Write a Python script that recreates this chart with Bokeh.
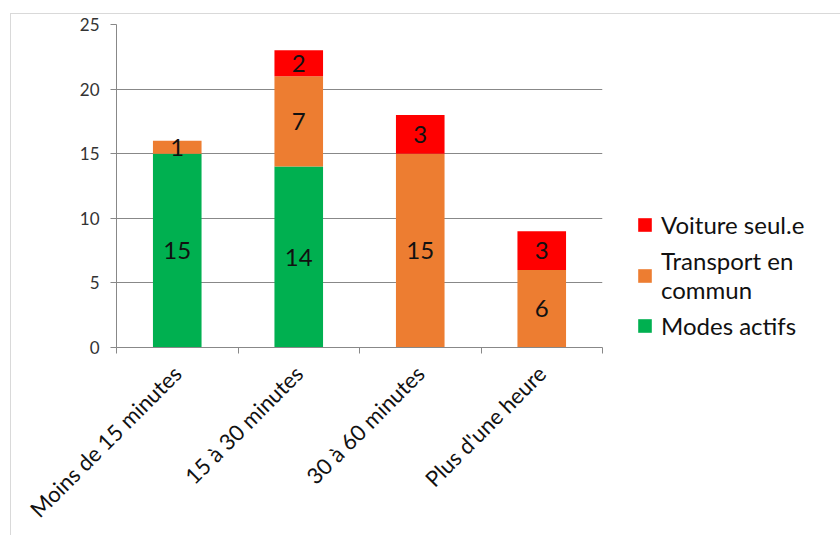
import math
from bokeh.plotting import figure
from bokeh.models import FixedTicker, Legend, LegendItem, Range1d
from bokeh.core.properties import value
from bokeh.embed import file_html
from bokeh.resources import INLINE

categories = ["Moins de 15 minutes", "15 à 30 minutes", "30 à 60 minutes", "Plus d'une heure"]
series_names = ["Modes actifs", "Transport en\ncommun", "Voiture seul.e"]
modes_actifs = [15, 14, 0, 0]
transport_commun = [1, 7, 15, 6]
voiture_seule = [0, 2, 3, 3]
colors = ["#00B050", "#ED7D31", "#FF0000"]
y_ticks = [0, 5, 10, 15, 20, 25]

FONT = "Lato"
xs = [i + 0.5 for i in range(len(categories))]
series = [modes_actifs, transport_commun, voiture_seule]

p = figure(frame_width=486, frame_height=323,
           min_border_left=105, min_border_right=220, min_border_top=10, min_border_bottom=175,
           x_range=Range1d(0, len(categories)), y_range=Range1d(0, 25),
           output_backend="svg", toolbar_location=None,
           styles={"margin-left": "10px", "margin-top": "13px",
                   "border-left": "1px solid #d9d9d9", "border-top": "1px solid #d9d9d9"})
p.outline_line_color = None
p.background_fill_color = "white"
p.border_fill_color = "white"

renderers = []
bottoms = [0] * len(categories)
lx, ly, lt = [], [], []
for vals, col in zip(series, colors):
    tops = [b + v for b, v in zip(bottoms, vals)]
    r = p.vbar(x=xs, bottom=bottoms, top=tops, width=0.4, fill_color=col, line_color=None)
    renderers.append(r)
    for x, b, v in zip(xs, bottoms, vals):
        if v > 0:
            lx.append(x)
            ly.append(b + v / 2)
            lt.append(str(v))
    bottoms = tops

p.text(x=lx, y=ly, text=lt, text_align="center", text_baseline="middle",
       text_font=value(FONT), text_font_size="24px", text_color="#111111")

# axes
p.xaxis.ticker = FixedTicker(ticks=xs, minor_ticks=list(range(len(categories) + 1)))
p.xaxis.major_label_overrides = {x: c for x, c in zip(xs, categories)}
p.xaxis.major_label_orientation = math.pi / 4
p.xaxis.major_tick_out = 0
p.xaxis.major_tick_in = 0
p.xaxis.minor_tick_out = 6
p.xaxis.minor_tick_in = 0
p.xaxis.minor_tick_line_color = "#888888"
p.xaxis.axis_line_color = "#888888"
p.xaxis.major_label_text_font = FONT
p.xaxis.major_label_text_font_size = "22px"
p.xaxis.major_label_text_color = "#111111"
p.xaxis.major_label_standoff = 16

p.yaxis.ticker = FixedTicker(ticks=y_ticks)
p.yaxis.minor_tick_line_color = None
p.yaxis.major_tick_out = 6
p.yaxis.major_tick_in = 0
p.yaxis.major_tick_line_color = "#888888"
p.yaxis.axis_line_color = "#888888"
p.yaxis.major_label_text_font = FONT
p.yaxis.major_label_text_font_size = "17px"
p.yaxis.major_label_text_color = "#333333"
p.yaxis.major_label_standoff = 11

p.xgrid.grid_line_color = None
p.ygrid.ticker = FixedTicker(ticks=y_ticks)
p.ygrid.grid_line_color = "#888888"
p.ygrid.grid_line_width = 1

items = [LegendItem(label=n, renderers=[r]) for n, r in zip(series_names, renderers)][::-1]
legend = Legend(items=items, location=(34, 7), padding=0, margin=0,
                border_line_alpha=0, background_fill_alpha=0,
                label_text_font=FONT, label_text_font_size="24px", label_text_color="#111111",
                glyph_width=17, glyph_height=17, spacing=7, label_standoff=8)
p.add_layout(legend, "right")

open("out.html", "w").write(file_html(p, INLINE))
